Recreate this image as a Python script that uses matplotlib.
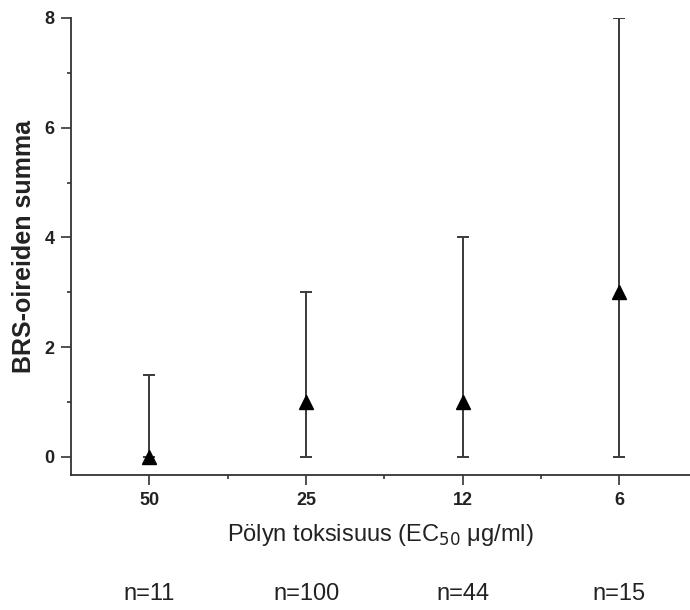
import matplotlib
matplotlib.use("Agg")
import matplotlib.pyplot as plt
from matplotlib.ticker import MultipleLocator
import matplotlib.transforms as mtransforms

plt.rcParams['font.family'] = ['Liberation Sans', 'DejaVu Sans']

categories = ["50", "25", "12", "6"]
medians = [0, 1, 1, 3]
lower = [0, 0, 0, 0]
upper = [1.5, 3, 4, 8]
n_labels = ["n=11", "n=100", "n=44", "n=15"]

fig = plt.figure(figsize=(6.9, 6.1), dpi=100)
ax = fig.add_axes([0.103, 0.2213, 0.897, 0.7492])

x = list(range(len(categories)))
yerr = [[m - lo for m, lo in zip(medians, lower)], [up - m for m, up in zip(medians, upper)]]
ax.errorbar(x, medians, yerr=yerr, fmt='none', ecolor='#3a3a3a', elinewidth=1.4,
            capsize=4, capthick=1.4)
ax.plot(x, medians, linestyle='none', marker='^', color='black', markersize=10.5)

ax.set_xlim(-0.5, 3.45)
ax.set_ylim(-0.33, 8)
ax.set_xticks(x)
ax.set_xticklabels(categories, fontsize=13, fontweight='bold')
ax.set_xticks([0.5, 1.5, 2.5], minor=True)
ax.yaxis.set_major_locator(MultipleLocator(2))
ax.yaxis.set_minor_locator(MultipleLocator(1))
for lab in ax.get_yticklabels():
    lab.set_fontsize(13)
    lab.set_fontweight('bold')
ax.tick_params(axis='both', which='major', direction='out', length=7, width=1.2, colors='#333333', labelcolor='#222222')
ax.tick_params(axis='both', which='minor', direction='out', length=3, width=1.2, colors='#333333')
ax.tick_params(axis='x', pad=5)
ax.tick_params(axis='y', pad=5)

for s in ['top', 'right']:
    ax.spines[s].set_visible(False)
for s in ['left', 'bottom']:
    ax.spines[s].set_linewidth(1.3)
    ax.spines[s].set_color('#333333')

ax.set_ylabel("BRS-oireiden summa", fontsize=18, fontweight='bold', color='#222222', va='center')
ax.yaxis.set_label_coords(24 / 690, 0.5, transform=mtransforms.blended_transform_factory(fig.transFigure, ax.transAxes))
ax.set_xlabel("Pölyn toksisuus (EC$_{50}$ μg/ml)", fontsize=17, color='#222222', va='center')
ax.xaxis.set_label_coords(0.5, 0.123, transform=mtransforms.blended_transform_factory(ax.transAxes, fig.transFigure))

trans = mtransforms.blended_transform_factory(ax.transData, fig.transFigure)
for xi, nl in zip(x, n_labels):
    fig.text(xi, 0.026, nl, transform=trans, ha='center', va='center', fontsize=17, color='#222222')

fig.savefig("out.png", dpi=100)
